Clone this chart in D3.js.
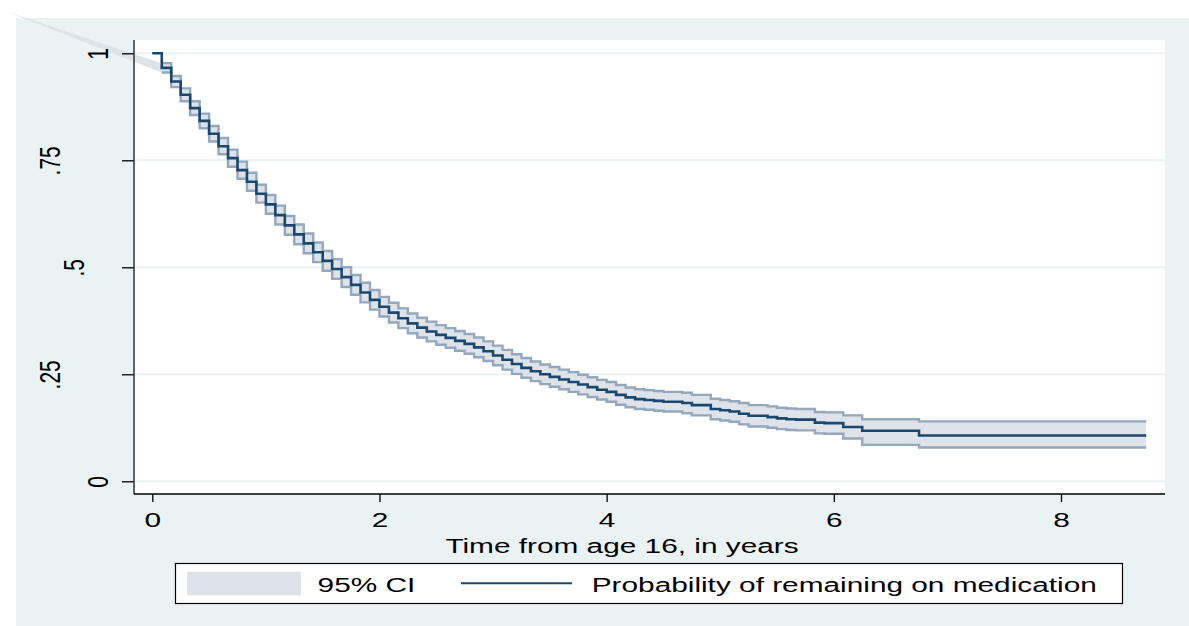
<!DOCTYPE html>
<html>
<head>
<meta charset="utf-8">
<script src="https://cdn.jsdelivr.net/npm/d3@7"></script>
<style>
  html, body { margin: 0; padding: 0; background: #fff; }
  svg { display: block; }
  text { font-family: 'Liberation Sans', Arial, sans-serif; fill: #000; }
</style>
</head>
<body>
<div id="graph"></div>
<script>
// Kaplan-Meier steps, time in months since age 16
let months = [0, 1, 2, 3, 4, 5, 6, 7, 8, 9, 10, 11, 12, 13, 14, 15, 16, 17, 18, 19, 20,
  21, 22, 23, 24, 25, 26, 27, 28, 29, 30, 31, 32, 33, 34, 35, 36, 37, 38, 39, 40,
  41, 42, 43, 44, 45, 46, 47, 48, 49, 50, 51, 52, 53, 54, 56, 57, 59, 60, 61, 62,
  63, 65, 66, 67, 68, 70, 71, 73, 75, 81, 105];
let surv = [1, .966, .934, .903, .872, .842, .812, .783, .755, .727, .700, .672, .647, .622, .598, .577, .556, .535, .515, .496, .477,
  .459, .441, .424, .408, .394, .381, .369, .359, .350, .342, .335, .328, .321, .313, .304, .294, .284, .274, .265, .257,
  .250, .244, .238, .232, .226, .220, .214, .209, .202, .196, .192, .190, .188, .186, .183, .178, .169, .166, .163, .158,
  .153, .150, .147, .145, .144, .137, .136, .127, .118, .107, .107];
let ciLow = [null, .955, .921, .888, .856, .825, .794, .764, .735, .707, .679, .651, .625, .600, .576, .554, .533, .512, .492, .473, .454,
  .436, .418, .401, .385, .371, .358, .346, .336, .327, .319, .312, .305, .298, .290, .281, .271, .261, .251, .242, .234,
  .227, .221, .215, .209, .203, .197, .191, .186, .179, .173, .169, .167, .165, .163, .159, .154, .145, .142, .139, .133,
  .128, .125, .122, .120, .119, .112, .111, .100, .085, .079, .079];
let ciHigh = [null, .977, .947, .918, .888, .859, .830, .802, .775, .747, .721, .693, .669, .644, .620, .600, .579, .558, .538, .519, .500,
  .482, .464, .447, .431, .417, .404, .392, .382, .373, .365, .358, .351, .344, .336, .327, .317, .307, .297, .288, .280,
  .273, .267, .261, .255, .249, .243, .237, .232, .225, .219, .215, .213, .211, .209, .207, .202, .193, .190, .187, .183,
  .178, .175, .172, .170, .169, .162, .161, .154, .145, .140, .140];
// stray first vertex of the CI polygon (years, probability)
let ciStray = [-1.28, 1.097];

let yTicks = [0, .25, .5, .75, 1];
let yTickLabels = ['0', '.25', '.5', '.75', '1'];
let xTicks = [0, 2, 4, 6, 8];
let xTitle = 'Time from age 16, in years';
let legendLabels = ['95% CI', 'Probability of remaining on medication'];

let width = 1189, height = 626;
let plot = {left: 134, top: 40, right: 1165, bottom: 494};
let stretch = 1.42;   // text in the original is widened horizontally
let fontSize = 21;

let navy = '#1a476f';
let bgColor = '#eaf2f3';
let ciFill = '#dee3ea';
let ciLine = '#93a8bc';

let data = months.map(function(m, i) {
  return {t: m / 12, s: surv[i], lo: ciLow[i], hi: ciHigh[i]};
});

let x = d3.scaleLinear().domain([0, 8]).range([152.3, 1061]);
let y = d3.scaleLinear().domain([0, 1]).range([481.3, 53.3]);

let svg = d3.select('#graph').append('svg')
    .attr('width', width)
    .attr('height', height);

svg.append('rect')
    .attr('x', 16).attr('y', 18)
    .attr('width', width - 16).attr('height', height - 18)
    .attr('fill', bgColor);

svg.append('rect')
    .attr('x', plot.left).attr('y', plot.top)
    .attr('width', plot.right - plot.left).attr('height', plot.bottom - plot.top)
    .attr('fill', '#fff');

// grid lines
svg.append('g').selectAll('line')
    .data(yTicks)
  .enter().append('line')
    .attr('x1', plot.left).attr('x2', plot.right)
    .attr('y1', function(d) { return y(d); })
    .attr('y2', function(d) { return y(d); })
    .attr('stroke', bgColor)
    .attr('stroke-width', 2);

let ciData = data.filter(function(d) { return d.lo != null; });

// wedge from the stray vertex to the first CI step
let first = ciData[0];
svg.append('path')
    .attr('d', d3.line()([
      [x(ciStray[0]), y(ciStray[1])],
      [x(first.t), y(first.hi)],
      [x(first.t), y(first.lo)]
    ]) + 'Z')
    .attr('fill', ciFill);

let ciArea = d3.area()
    .curve(d3.curveStepAfter)
    .x(function(d) { return x(d.t); })
    .y0(function(d) { return y(d.lo); })
    .y1(function(d) { return y(d.hi); });

svg.append('path')
    .datum(ciData)
    .attr('d', ciArea)
    .attr('fill', ciFill);

['lo', 'hi'].forEach(function(k) {
  svg.append('path')
      .datum(ciData)
      .attr('d', d3.line()
        .curve(d3.curveStepAfter)
        .x(function(d) { return x(d.t); })
        .y(function(d) { return y(d[k]); }))
      .attr('fill', 'none')
      .attr('stroke', ciLine)
      .attr('stroke-width', 2.4);
});

svg.append('path')
    .datum(data)
    .attr('d', d3.line()
      .curve(d3.curveStepAfter)
      .x(function(d) { return x(d.t); })
      .y(function(d) { return y(d.s); }))
    .attr('fill', 'none')
    .attr('stroke', navy)
    .attr('stroke-width', 2.6);

// axes
let xAxis = svg.append('g')
    .attr('transform', 'translate(0,' + plot.bottom + ')')
    .call(d3.axisBottom(x).tickValues(xTicks).tickSize(8).tickSizeOuter(0));
xAxis.select('.domain').remove();
xAxis.selectAll('.tick line').attr('stroke', '#000').attr('stroke-width', 1.3);
xAxis.selectAll('.tick text')
    .attr('y', 0).attr('dy', 0)
    .attr('transform', 'translate(0,33.3) scale(' + stretch + ',1)')
    .style('font-size', fontSize + 'px')
    .style('font-family', "'Liberation Sans', Arial, sans-serif");

let yAxis = svg.append('g')
    .attr('transform', 'translate(' + plot.left + ',0)')
    .call(d3.axisLeft(y).tickValues(yTicks).tickSize(12).tickSizeOuter(0)
      .tickFormat(function(d, i) { return yTickLabels[i]; }));
yAxis.select('.domain').remove();
yAxis.selectAll('.tick line').attr('stroke', '#000').attr('stroke-width', 1.3);
yAxis.selectAll('.tick text')
    .attr('x', 0).attr('y', 0).attr('dy', 0)
    .attr('text-anchor', 'middle')
    .attr('transform', function(d, i) {
      let n = yTickLabels[i].length;
      let bx = 108 - 24 * (n - 1) - plot.left;
      return 'translate(' + bx + ',0) scale(' + stretch + ',1) rotate(-90)';
    })
    .style('font-size', fontSize + 'px')
    .style('font-family', "'Liberation Sans', Arial, sans-serif");

svg.append('line')
    .attr('x1', plot.left).attr('x2', plot.left)
    .attr('y1', plot.top).attr('y2', plot.bottom)
    .attr('stroke', '#333').attr('stroke-width', 1.5);
svg.append('line')
    .attr('x1', plot.left).attr('x2', plot.right)
    .attr('y1', plot.bottom).attr('y2', plot.bottom)
    .attr('stroke', '#000').attr('stroke-width', 1.5);

svg.append('text')
    .attr('transform', 'translate(622,553.3) scale(' + stretch + ',1)')
    .attr('text-anchor', 'middle')
    .style('font-size', fontSize + 'px')
    .text(xTitle);

// legend
let legend = svg.append('g');
legend.append('rect')
    .attr('x', 175.5).attr('y', 563.5)
    .attr('width', 947).attr('height', 40)
    .attr('fill', '#fff')
    .attr('stroke', '#000')
    .attr('stroke-width', 1.2);
legend.append('rect')
    .attr('x', 187).attr('y', 571.7)
    .attr('width', 114).attr('height', 23.6)
    .attr('fill', ciFill);
legend.append('line')
    .attr('x1', 461).attr('x2', 572)
    .attr('y1', 583.3).attr('y2', 583.3)
    .attr('stroke', navy).attr('stroke-width', 2);
legend.selectAll('text.leg')
    .data(legendLabels)
  .enter().append('text')
    .attr('class', 'leg')
    .attr('transform', function(d, i) {
      return 'translate(' + (i == 0 ? 317.6 : 591.7) + ',591.7) scale(' + stretch + ',1)';
    })
    .style('font-size', fontSize + 'px')
    .text(function(d) { return d; });
</script>
</body>
</html>
